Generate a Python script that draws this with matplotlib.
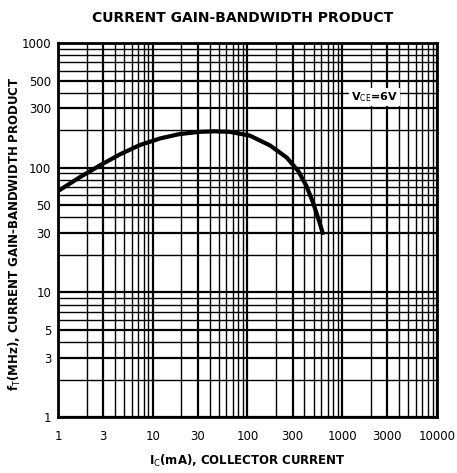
import numpy as np
import matplotlib
matplotlib.use("Agg")
import matplotlib.pyplot as plt
from matplotlib.ticker import LogLocator, FixedLocator, NullFormatter

plt.rcParams['font.family'] = ['DejaVu Sans']

# (Ic in mA, fT in MHz)
ic_ma = [1, 1.7, 2.8, 4.5, 7.3, 12, 19, 31, 45, 65, 106, 173, 259, 344, 421, 495, 580, 630]
ft_mhz = [65, 84, 105, 128, 152, 172, 186, 194, 196, 194, 181, 151, 121, 94, 71, 52, 36, 29]

x_ticks = [1, 3, 10, 30, 100, 300, 1000, 3000, 10000]
y_ticks = [1, 3, 5, 10, 30, 50, 100, 300, 500, 1000]

fig = plt.figure(figsize=(4.57, 4.73), dpi=100)
ax = fig.add_axes([0.127, 0.118, 0.829, 0.791])
ax.set_xscale('log')
ax.set_yscale('log')
ax.set_xlim(1, 10000)
ax.set_ylim(1, 1000)

# grid: decades heavier, 2..9 lighter
minor = LogLocator(base=10, subs=np.arange(2, 10))
ax.xaxis.set_minor_locator(minor)
ax.yaxis.set_minor_locator(minor)
ax.xaxis.set_minor_formatter(NullFormatter())
ax.yaxis.set_minor_formatter(NullFormatter())
ax.grid(which='minor', color='black', linewidth=1.0)
ax.grid(which='major', color='black', linewidth=1.6)

ax.xaxis.set_major_locator(FixedLocator(x_ticks))
ax.yaxis.set_major_locator(FixedLocator(y_ticks))
ax.set_xticklabels([str(v) for v in x_ticks])
ax.set_yticklabels([str(v) for v in y_ticks])
ax.tick_params(which='both', length=0, labelsize=8.5, colors='black')
ax.tick_params(axis='x', pad=9)
ax.tick_params(axis='y', pad=5)

for s in ax.spines.values():
    s.set_linewidth(2)

ax.plot(ic_ma, ft_mhz, color='black', linewidth=3, solid_capstyle='butt', zorder=5)

ax.text(2200, 370, r'V$_{\mathrm{CE}}$=6V', fontsize=8, fontweight='bold',
        ha='center', va='center', zorder=6,
        bbox=dict(facecolor='white', edgecolor='none', pad=1.5))

fig.text(0.532, 0.963, 'CURRENT GAIN-BANDWIDTH PRODUCT', fontsize=10,
         fontweight='bold', ha='center', va='center')
ax.set_xlabel(r'I$_{\mathrm{C}}$(mA), COLLECTOR CURRENT', fontsize=8.5,
              fontweight='bold', labelpad=7)
ax.set_ylabel(r'f$_{\mathrm{T}}$(MHz), CURRENT GAIN-BANDWIDTH PRODUCT', fontsize=8.5,
              fontweight='bold')
ax.yaxis.set_label_coords(-0.092, 0.49)

fig.savefig('out.png', dpi=100)
